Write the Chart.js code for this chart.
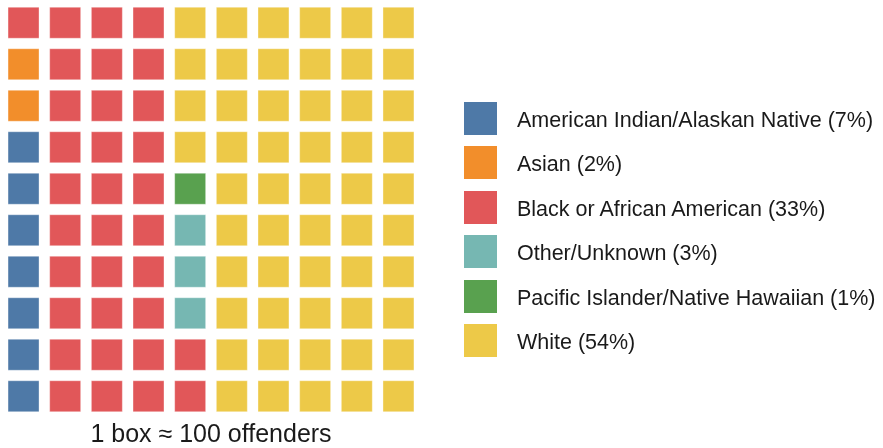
<!DOCTYPE html>
<html>
<head>
<meta charset="utf-8">
<script src="https://cdn.jsdelivr.net/npm/chart.js@4/dist/chart.umd.min.js"></script>
<style>
  html, body { margin: 0; padding: 0; background: #fff; }
  #wrap { position: relative; width: 883px; height: 448px; overflow: hidden; }
  #waffle { position: absolute; left: 0; top: 0; }
  #legend { position: absolute; left: 464px; top: 102px; font-family: 'Liberation Sans', Arial, sans-serif; font-size: 21.5px; color: #1a1a1a; }
  .lg-item { display: flex; align-items: center; height: 33px; margin-bottom: 11.4px; }
  .lg-box { width: 33px; height: 33px; flex: none; }
  .lg-text { margin-left: 20px; line-height: 33px; position: relative; top: 2px; white-space: nowrap; }
</style>
</head>
<body>
<div id="wrap">
  <canvas id="waffle" width="883" height="448"></canvas>
  <div id="legend"></div>
</div>
<script>
// waffle: 10x10 boxes, filled column by column from the bottom
const categories = ['American Indian/Alaskan Native', 'Asian', 'Black or African American',
  'Other/Unknown', 'Pacific Islander/Native Hawaiian', 'White'];
const boxCounts = [7, 2, 33, 3, 1, 54];
const colors = ['#4E79A7', '#F28E2B', '#E15759', '#76B7B2', '#59A14F', '#EDC948'];
const gridSize = 10;
const caption = '1 box \u2248 100 offenders';

const total = boxCounts.reduce((a, b) => a + b, 0);
let k = 0;
const datasets = categories.map((name, i) => {
  const pts = [];
  for (let n = 0; n < boxCounts[i]; n++, k++) {
    pts.push({ x: Math.floor(k / gridSize), y: k % gridSize });
  }
  return {
    label: name,
    data: pts,
    pointStyle: 'rect',
    pointRadius: 21.9,
    pointHoverRadius: 21.9,
    backgroundColor: colors[i],
    borderColor: 'rgba(255,255,255,0.35)',
    borderWidth: 1,
  };
});

new Chart(document.getElementById('waffle'), {
  type: 'scatter',
  data: { datasets },
  options: {
    responsive: false,
    animation: false,
    layout: { autoPadding: false, padding: { left: 2.7, right: 463.7, top: 2, bottom: 1 } },
    plugins: { legend: { display: false }, tooltip: { enabled: false } },
    scales: {
      x: {
        min: -0.5, max: gridSize - 0.5,
        grid: { display: false, drawTicks: false },
        border: { display: false },
        ticks: { display: false },
        title: {
          display: true, text: caption, color: '#1a1a1a',
          font: { family: "'Liberation Sans', Arial, sans-serif", size: 25 },
          padding: { top: 3, bottom: -3 },
        },
      },
      y: { min: -0.5, max: gridSize - 0.5, display: false },
    },
  },
});

document.getElementById('legend').innerHTML = categories.map((name, i) => `
  <div class="lg-item">
    <div class="lg-box" style="background:${colors[i]}"></div>
    <div class="lg-text">${name} (${Math.round(boxCounts[i] / total * 100)}%)</div>
  </div>`).join('');
</script>
</body>
</html>
